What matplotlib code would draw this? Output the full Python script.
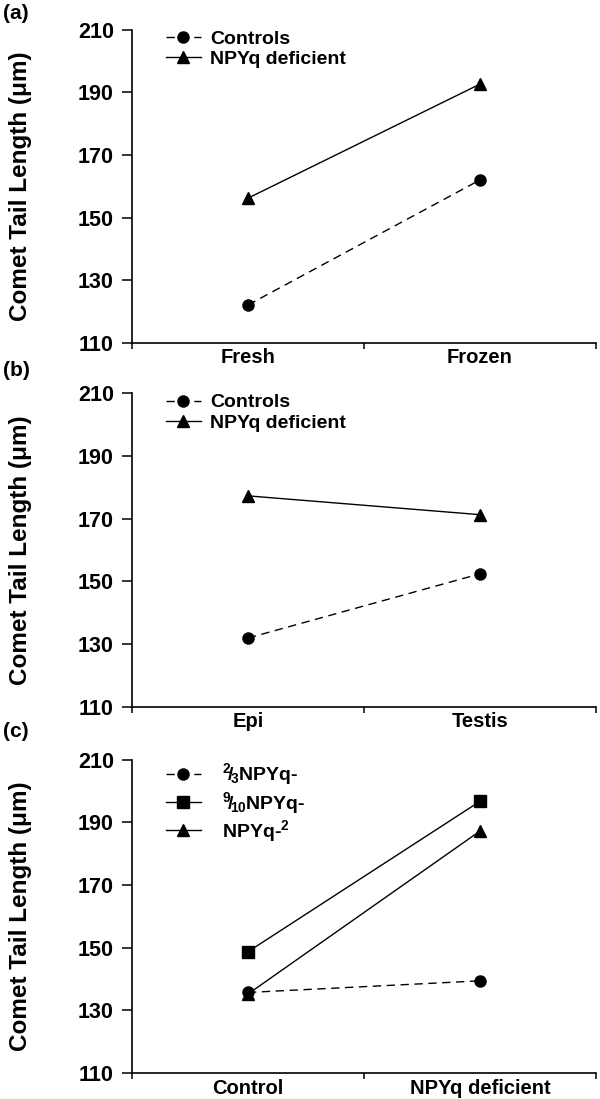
import matplotlib.pyplot as plt
from matplotlib.ticker import FixedLocator

plt.rcParams['font.family'] = ['Liberation Sans', 'DejaVu Sans']
plt.rcParams['mathtext.fontset'] = 'custom'
plt.rcParams['mathtext.rm'] = 'Liberation Sans:bold'
plt.rcParams['mathtext.it'] = 'Liberation Sans:bold'
plt.rcParams['mathtext.bf'] = 'Liberation Sans:bold'

# panel (a)
cats_a = ['Fresh', 'Frozen']
controls_a = [122.1, 162.0]
npyq_a = [156.2, 192.6]

# panel (b)
cats_b = ['Epi', 'Testis']
controls_b = [131.9, 152.4]
npyq_b = [177.3, 171.3]

# panel (c)
cats_c = ['Control', 'NPYq deficient']
frac23_c = [135.7, 139.4]
frac910_c = [148.7, 196.7]
npyq2_c = [135.2, 187.2]

yticks = [110, 130, 150, 170, 190, 210]

fig = plt.figure(figsize=(6, 10.99), dpi=100)

# axes boxes [left, bottom, width, height] in figure fractions
boxes = [[0.22, 0.688, 0.773, 0.285],
         [0.22, 0.357, 0.773, 0.285],
         [0.22, 0.0237, 0.773, 0.285]]
axs = [fig.add_axes(b) for b in boxes]


def style(ax, cats):
    ax.set_xlim(-0.5, 1.5)
    ax.set_ylim(110, 210)
    ax.set_yticks(yticks)
    ax.set_xticks(range(len(cats)))
    ax.set_xticklabels(cats, fontweight='bold', fontsize=14.5)
    ax.xaxis.set_minor_locator(FixedLocator([-0.5, 0.5, 1.5]))
    ax.tick_params(axis='x', which='major', length=0, pad=4)
    ax.tick_params(axis='x', which='minor', length=4, width=1.1, direction='out')
    ax.tick_params(axis='y', length=7, width=1.1, direction='out', pad=6, labelsize=15.5)
    for t in ax.get_yticklabels():
        t.set_fontweight('bold')
    for s in ['top', 'right']:
        ax.spines[s].set_visible(False)
    for s in ['left', 'bottom']:
        ax.spines[s].set_linewidth(1.2)
    ax.set_ylabel('Comet Tail Length (μm)', fontweight='bold', fontsize=17.5)
    ax.yaxis.set_label_coords(-0.215, 0.5)


dash = dict(color='black', lw=1.0, linestyle=(0, (6, 4)), marker='o', markersize=8)
solid = dict(color='black', lw=1.0, linestyle='-', markersize=8)

leg_kw = dict(loc='upper left', bbox_to_anchor=(0.035, 1.055), frameon=False,
              prop={'weight': 'bold', 'size': 14}, handlelength=1.8,
              handletextpad=0.5, labelspacing=0.15)

ax = axs[0]
ax.plot(range(2), controls_a, label='Controls', **dash)
ax.plot(range(2), npyq_a, marker='^', label='NPYq deficient', **solid)
style(ax, cats_a)
ax.legend(**leg_kw)

ax = axs[1]
ax.plot(range(2), controls_b, label='Controls', **dash)
ax.plot(range(2), npyq_b, marker='^', label='NPYq deficient', **solid)
style(ax, cats_b)
ax.legend(**leg_kw)

ax = axs[2]
ax.plot(range(2), npyq2_c, marker='^', label='NPYq-$^{2}$', **solid)
ax.plot(range(2), frac910_c, marker='s', label=r'$^{9}\!/\!_{10}$NPYq-', **solid)
ax.plot(range(2), frac23_c, label=r'$^{2}\!/\!_{3}$NPYq-', **dash)
style(ax, cats_c)
h, l = ax.get_legend_handles_labels()
ax.legend([h[2], h[1], h[0]], [l[2], l[1], l[0]], loc='upper left',
          bbox_to_anchor=(0.035, 1.05), frameon=False,
          prop={'weight': 'bold', 'size': 14}, handlelength=1.8,
          handletextpad=1.1, labelspacing=0.12)

for lab, y in [('(a)', 0.988), ('(b)', 0.663), ('(c)', 0.334)]:
    fig.text(0.005, y, lab, fontweight='bold', fontsize=15, va='center', ha='left')

fig.savefig('out.png', dpi=100)
